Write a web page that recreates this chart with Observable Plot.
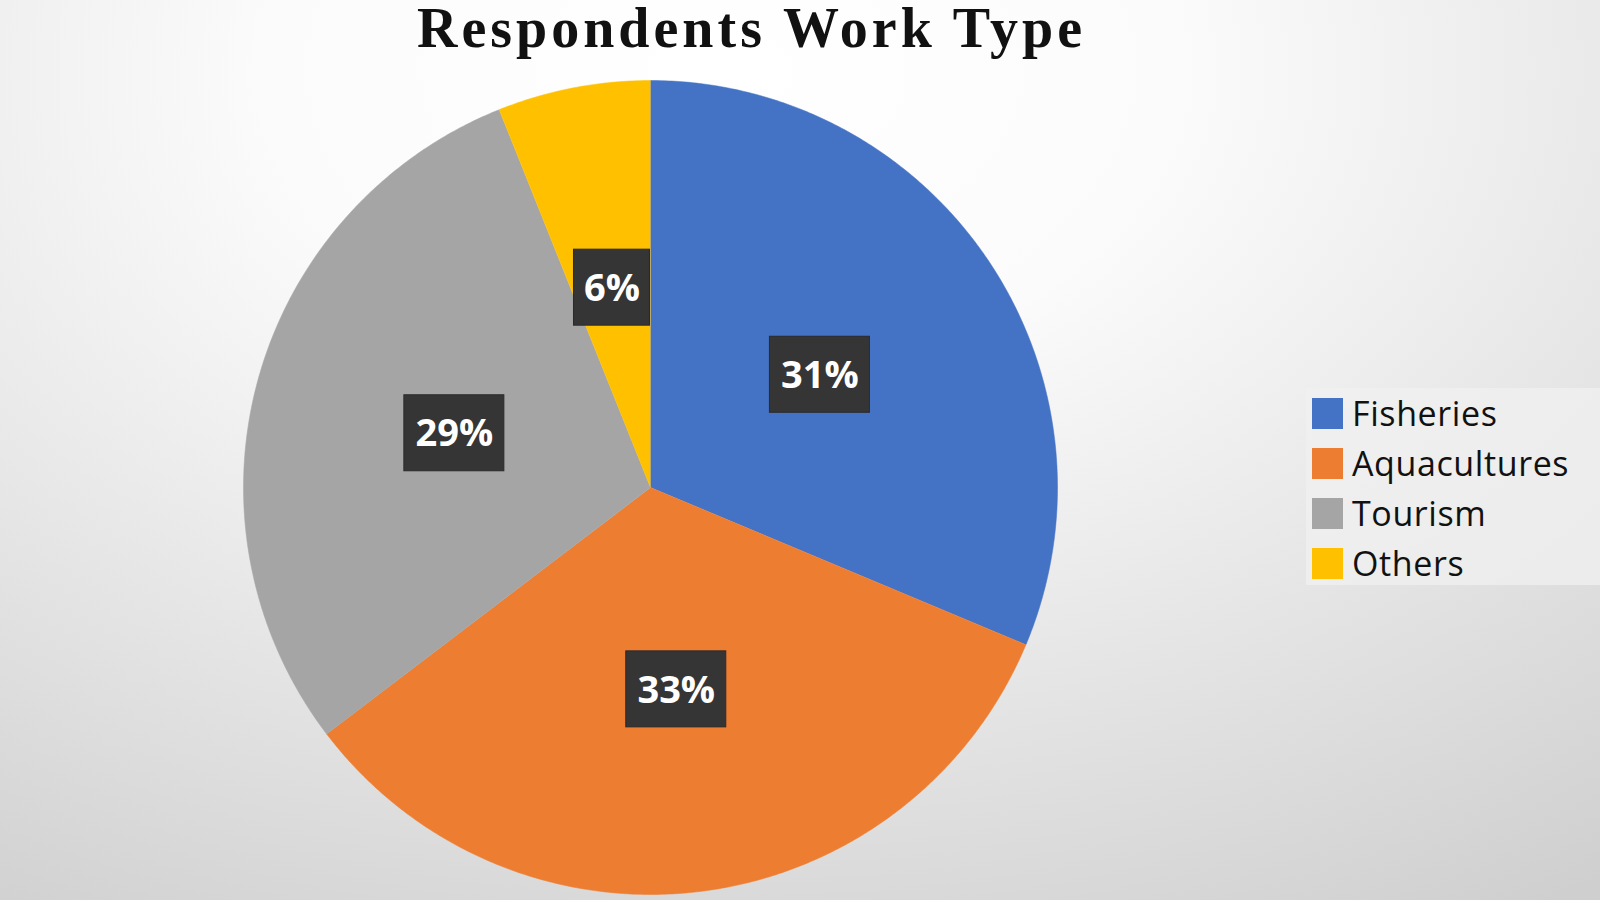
<!DOCTYPE html>
<html>
<head>
<meta charset="utf-8">
<script src="https://cdn.jsdelivr.net/npm/d3@7"></script>
<script src="https://cdn.jsdelivr.net/npm/@observablehq/plot@0.6"></script>
<style>
  html, body { margin: 0; padding: 0; }
  body {
    width: 1600px; height: 900px; overflow: hidden; position: relative;
    background: radial-gradient(ellipse 95% 110% at 45% 8%, #ffffff 0%, #fbfbfb 30%, #e7e7e7 62%, #cfcfcf 100%);
    font-family: "Open Sans", sans-serif;
  }
  #title {
    position: absolute; left: 0; width: 1503px; top: -4px; text-align: center;
    font-family: "Liberation Serif", "Times New Roman", serif; font-weight: bold;
    font-size: 56px; color: #111; letter-spacing: 4px;
  }
  #chart { position: absolute; left: 0; top: 0; }
  #legend {
    position: absolute; left: 1306px; top: 388px; width: 294px; height: 197px;
    background: rgba(240,240,240,0.75);
  }
  .item { position: absolute; left: 6px; height: 40px; display: flex; align-items: center; }
  .sw { width: 31px; height: 31px; margin-right: 9px; }
  .lab { font-family: "Open Sans", sans-serif; font-size: 34px; color: #111; letter-spacing: 0.6px; }
</style>
</head>
<body>
<div id="chart"></div>
<div id="title">Respondents Work Type</div>
<div id="legend"></div>
<script>
const categories = ["Fisheries", "Aquacultures", "Tourism", "Others"];
const values = [31, 33, 29, 6];
const colors = ["#4472C4", "#ED7D31", "#A5A5A5", "#FFC000"];
const labels = ["31%", "33%", "29%", "6%"];

const W = 1600, H = 900, CX = 650, CY = 487, R = 407;
const total = d3.sum(values);

// slice polygons (angles from 12 o'clock, clockwise)
const pts = [];
const labelPts = [];
let acc = 0;
categories.forEach((c, i) => {
  const a0 = acc / total * 2 * Math.PI;
  acc += values[i];
  const a1 = acc / total * 2 * Math.PI;
  pts.push({cat: c, x: 0, y: 0});
  const n = Math.max(2, Math.ceil((a1 - a0) / (Math.PI / 360)));
  for (let k = 0; k <= n; k++) {
    const a = a0 + (a1 - a0) * k / n;
    pts.push({cat: c, x: Math.sin(a), y: Math.cos(a)});
  }
  const am = (a0 + a1) / 2;
  labelPts.push({cat: c, text: labels[i], x: 0.5 * Math.sin(am), y: 0.5 * Math.cos(am)});
});

const chart = Plot.plot({
  width: W, height: H,
  margin: 0,
  x: {domain: [-CX / R, (W - CX) / R], axis: null},
  y: {domain: [-(H - CY) / R, CY / R], axis: null},
  color: {domain: categories, range: colors},
  style: {background: "transparent", overflow: "visible"},
  marks: [
    Plot.line(pts, {x: "x", y: "y", z: "cat", fill: "cat", stroke: "cat", strokeWidth: 0.5, curve: "linear"}),
    Plot.rect(labelPts, {filter: d => d.text.length === 3, x1: "x", x2: "x", y1: "y", y2: "y",
      insetLeft: -50, insetRight: -50, insetTop: -38, insetBottom: -38, fill: "#353535", stroke: "#2a2a2a"}),
    Plot.rect(labelPts, {filter: d => d.text.length === 2, x1: "x", x2: "x", y1: "y", y2: "y",
      insetLeft: -38, insetRight: -38, insetTop: -38, insetBottom: -38, fill: "#353535", stroke: "#2a2a2a"}),
    Plot.text(labelPts, {x: "x", y: "y", text: "text", fill: "white", fontSize: 38, fontWeight: "bold",
      fontFamily: "Open Sans", dy: 1})
  ]
});
document.getElementById("chart").appendChild(chart);

const legend = document.getElementById("legend");
categories.forEach((c, i) => {
  const it = document.createElement("div");
  it.className = "item";
  it.style.top = (5 + i * 50) + "px";
  it.innerHTML = `<div class="sw" style="background:${colors[i]}"></div><div class="lab">${c}</div>`;
  legend.appendChild(it);
});
</script>
</body>
</html>
